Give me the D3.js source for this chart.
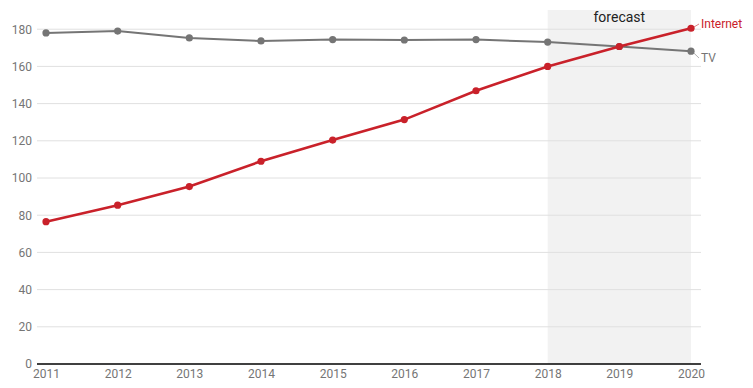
<!DOCTYPE html>
<html><head><meta charset="utf-8">
<script src="https://cdn.jsdelivr.net/npm/d3@7"></script>
<style>body{margin:0;background:#fff;} svg{display:block;font-family:Roboto,sans-serif;}</style>
</head><body><svg id="c" width="753" height="388"></svg>
<script>
const years = [2011,2012,2013,2014,2015,2016,2017,2018,2019,2020];
const tvValues = [178,179,175.3,173.7,174.4,174.2,174.4,173.1,170.7,168.2];
const internetValues = [76.5,85.4,95.4,109,120.4,131.4,146.9,160,170.7,180.5];
const yTicks = [0,20,40,60,80,100,120,140,160,180];
const forecastStart = 2018, forecastEnd = 2020;

const svg = d3.select("#c");
const x = d3.scaleLinear().domain([2011,2020]).range([46,691]);
const y = d3.scaleLinear().domain([0,180]).range([364,29.2]);
const gridL = 37, gridR = 701;

// forecast band
svg.append("rect").attr("x",x(forecastStart)).attr("y",10)
  .attr("width",x(forecastEnd)-x(forecastStart)).attr("height",y(0)-10)
  .attr("fill","#f2f2f2");
svg.append("text").attr("x",(x(forecastStart)+x(forecastEnd))/2).attr("y",22)
  .attr("text-anchor","middle").attr("font-size",14).attr("fill","#222").text("forecast");

// gridlines
svg.append("g").selectAll("line").data(yTicks.filter(d=>d>0)).join("line")
  .attr("x1",gridL).attr("x2",gridR).attr("y1",d=>y(d)).attr("y2",d=>y(d))
  .attr("stroke","#e0e0e0").attr("stroke-width",1);

// y axis labels
const yAxis = d3.axisLeft(y).tickValues(yTicks).tickSize(0).tickPadding(5);
const gy = svg.append("g").attr("transform",`translate(${gridL},0)`).call(yAxis);
gy.select(".domain").remove();
gy.selectAll("text").attr("font-family","Roboto,sans-serif").attr("font-size",12).attr("fill","#757575");

// x axis
const xAxis = d3.axisBottom(x).tickValues(years).tickFormat(d3.format("d")).tickSize(0).tickPadding(5);
const gx = svg.append("g").attr("transform",`translate(0,${y(0)})`).call(xAxis);
gx.select(".domain").remove();
gx.selectAll("text").attr("font-family","Roboto,sans-serif").attr("font-size",12).attr("fill","#757575");
svg.append("line").attr("x1",gridL).attr("x2",gridR).attr("y1",y(0)).attr("y2",y(0))
  .attr("stroke","#000").attr("stroke-width",1.5);

const line = d3.line().x((d,i)=>x(years[i])).y(d=>y(d));
function series(vals,color,w,label,ly){
  svg.append("path").datum(vals).attr("d",line).attr("fill","none")
    .attr("stroke",color).attr("stroke-width",w);
  svg.append("g").selectAll("circle").data(vals).join("circle")
    .attr("cx",(d,i)=>x(years[i])).attr("cy",d=>y(d)).attr("r",3.6).attr("fill",color);
  const lx = x(years[years.length-1]), lyv = y(vals[vals.length-1]);
  svg.append("line").attr("x1",lx+3).attr("y1",lyv+(ly-lyv)*0.3).attr("x2",lx+8).attr("y2",ly)
    .attr("stroke",color).attr("stroke-width",0.8).attr("opacity",0.7);
  svg.append("text").attr("x",lx+10).attr("y",ly).attr("dy","0.35em")
    .attr("font-size",12).attr("fill",color).text(label);
}
series(tvValues,"#757575",2,"TV",58);
series(internetValues,"#c9212a",2.6,"Internet",24);
</script></body></html>
